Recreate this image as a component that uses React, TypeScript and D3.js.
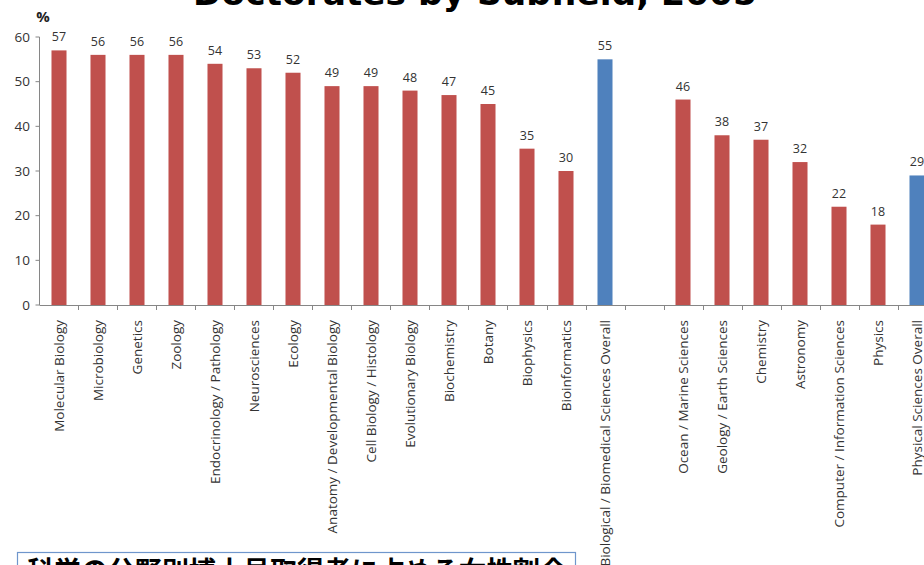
import React from "react";
import * as d3 from "d3";

const categories: string[] = [
  "Molecular Biology",
  "Microbiology",
  "Genetics",
  "Zoology",
  "Endocrinology / Pathology",
  "Neurosciences",
  "Ecology",
  "Anatomy / Developmental Biology",
  "Cell Biology / Histology",
  "Evolutionary Biology",
  "Biochemistry",
  "Botany",
  "Biophysics",
  "Bioinformatics",
  "Biological / Biomedical Sciences Overall",
  "",
  "Ocean / Marine Sciences",
  "Geology / Earth Sciences",
  "Chemistry",
  "Astronomy",
  "Computer / Information Sciences",
  "Physics",
  "Physical Sciences Overall",
];

const values: (number | null)[] = [
  57, 56, 56, 56, 54, 53, 52, 49, 49, 48, 47, 45, 35, 30, 55,
  null,
  46, 38, 37, 32, 22, 18, 29,
];

const overallCategories: string[] = [
  "Biological / Biomedical Sciences Overall",
  "Physical Sciences Overall",
];

const yTicks: number[] = [0, 10, 20, 30, 40, 50, 60];

const titleText = "Doctorates by Subfield, 2005";
const noteText = "科学の分野別博士号取得者に占める女性割合";

const W = 924;
const H = 565;

export default function App() {
  const x = d3
    .scaleBand<number>()
    .domain(categories.map((_, i) => i))
    .range([39.5, 39.5 + 23 * 39])
    .paddingInner(0.615)
    .paddingOuter(0.3075);
  const y = d3.scaleLinear().domain([0, 60]).range([305, 37]);
  const step = x.step();
  const font = "'Open Sans', 'DejaVu Sans', sans-serif";

  return (
    <svg
      width={W}
      height={H}
      style={{ position: "fixed", left: 0, top: 0, background: "#fff" }}
    >
      <rect x={0} y={0} width={W} height={H} fill="#fff" />
      <text
        x={475}
        y={5}
        textAnchor="middle"
        fontFamily="'DejaVu Sans', sans-serif"
        fontWeight="bold"
        fontSize={34.4}
        fill="#000"
      >
        {titleText}
      </text>
      <text
        x={43}
        y={22}
        textAnchor="middle"
        fontFamily={font}
        fontWeight="bold"
        fontSize={15}
        fill="#222"
      >
        %
      </text>
      {/* y axis */}
      <line x1={39.5} x2={39.5} y1={y(60)} y2={y(0)} stroke="#868686" />
      {yTicks.map((t) => (
        <g key={t}>
          <line x1={35.5} x2={39.5} y1={y(t)} y2={y(t)} stroke="#868686" />
          <text
            x={30}
            y={y(t)}
            dy="0.35em"
            textAnchor="end"
            fontFamily={font}
            fontSize={13.5}
            fill="#333"
          >
            {t}
          </text>
        </g>
      ))}
      {/* x axis */}
      <line x1={39.5} x2={W + 20} y1={y(0) + 0.5} y2={y(0) + 0.5} stroke="#868686" />
      {categories.map((_, i) => {
        const xs = (x(i) as number) - (step - x.bandwidth()) / 2 + step;
        return (
          <line
            key={"t" + i}
            x1={Math.round(xs) + 0.5}
            x2={Math.round(xs) + 0.5}
            y1={y(0)}
            y2={y(0) + 5}
            stroke="#868686"
          />
        );
      })}
      {/* bars */}
      {categories.map((c, i) => {
        const v = values[i];
        if (v == null) return null;
        const overall = overallCategories.includes(c);
        return (
          <g key={"b" + i}>
            <rect
              x={x(i) as number}
              y={y(v)}
              width={x.bandwidth()}
              height={y(0) - y(v)}
              fill={overall ? "#4F81BD" : "#C0504D"}
            />
            <text
              x={(x(i) as number) + x.bandwidth() / 2}
              y={y(v) - 9}
              textAnchor="middle"
              fontFamily={font}
              fontSize={12.5}
              fill="#333"
            >
              {v}
            </text>
          </g>
        );
      })}
      {/* category labels */}
      {categories.map((c, i) => {
        if (!c) return null;
        const cx = (x(i) as number) + x.bandwidth() / 2;
        return (
          <text
            key={"l" + i}
            transform={`translate(${cx + 5},320) rotate(-90)`}
            textAnchor="end"
            fontFamily={font}
            fontSize={13.5}
            fill="#333"
          >
            {c}
          </text>
        );
      })}
      {/* note box */}
      <rect x={17.5} y={552.5} width={558} height={40} fill="#fff" stroke="#6F96CC" strokeWidth={1.2} />
      <text
        x={27}
        y={581}
        fontFamily="'Noto Sans CJK JP', sans-serif"
        fontWeight="bold"
        fontSize={27}
        fill="#000"
      >
        {noteText}
      </text>
    </svg>
  );
}
